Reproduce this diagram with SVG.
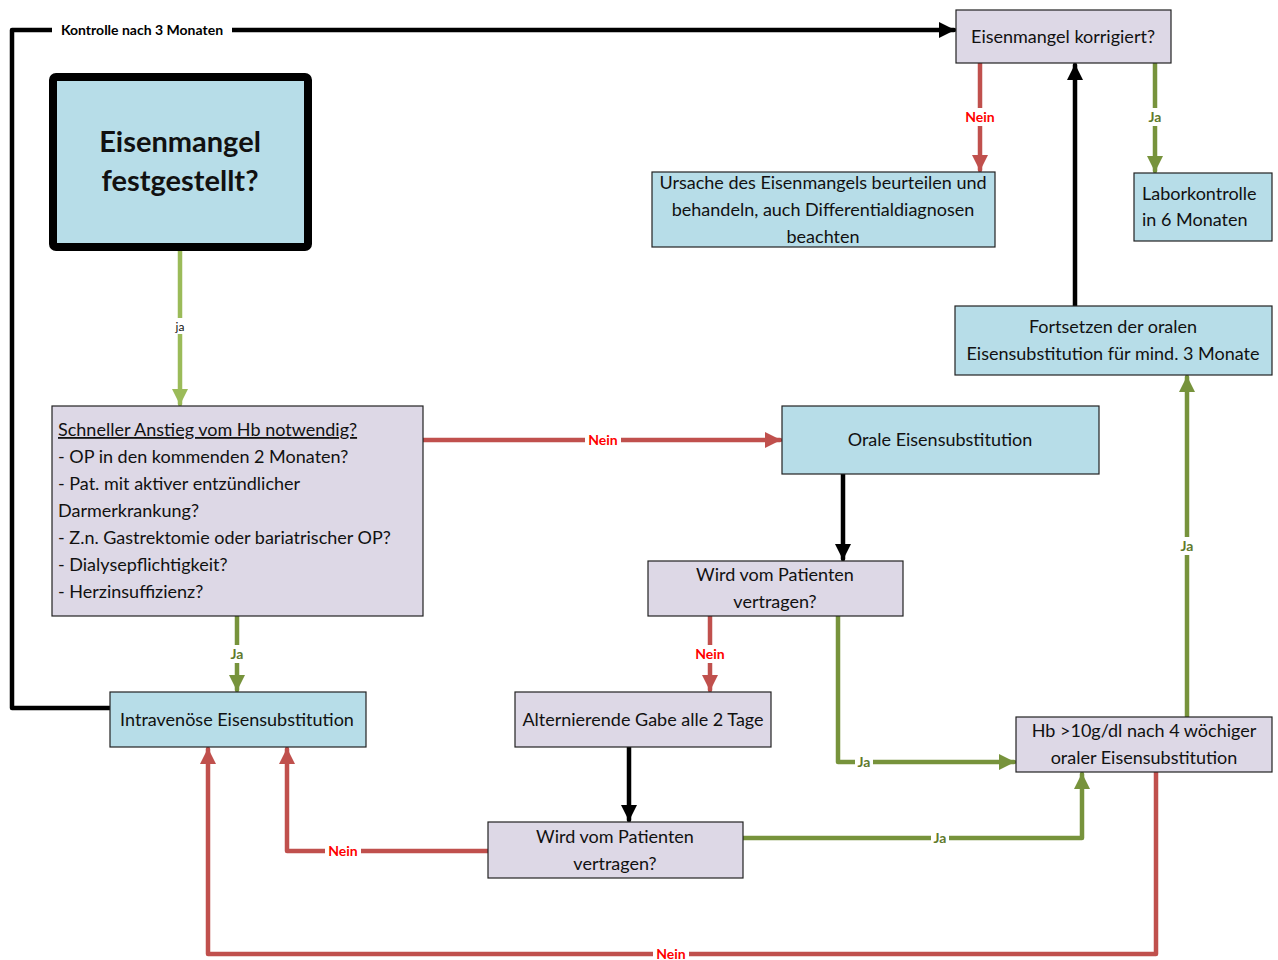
<svg xmlns="http://www.w3.org/2000/svg" width="1278" height="960" viewBox="0 0 1278 960">
<style>
  .t { font-family: Lato, "Open Sans", "Liberation Sans", sans-serif; font-size: 18px; fill: #111; }
  .c { text-anchor: middle; }
  .blue { fill: #B7DDE8; stroke: #222; stroke-width: 1.2; }
  .lav { fill: #DDD8E6; stroke: #222; stroke-width: 1.2; }
  .ln { fill: none; stroke-width: 4.5; stroke-linejoin: round; stroke-linecap: round; }
  .red { stroke: #C0504D; }
  .grn { stroke: #77933C; }
  .lgr { stroke: #9BBB59; }
  .blk { stroke: #000; }
  .lbl { font-family: Lato, "Open Sans", "Liberation Sans", sans-serif; font-size: 14px; font-weight: bold; text-anchor: middle; }
  .lr { fill: #FF0000; }
  .lg { fill: #5F7A2C; }
  .bg { fill: #fff; }
</style>
<defs>
  <marker id="aR" markerUnits="userSpaceOnUse" markerWidth="18" markerHeight="18" refX="15" refY="9" orient="auto"><path d="M0,1 L16,9 L0,17 z" fill="#C0504D"/></marker>
  <marker id="aG" markerUnits="userSpaceOnUse" markerWidth="18" markerHeight="18" refX="15" refY="9" orient="auto"><path d="M0,1 L16,9 L0,17 z" fill="#77933C"/></marker>
  <marker id="aL" markerUnits="userSpaceOnUse" markerWidth="18" markerHeight="18" refX="15" refY="9" orient="auto"><path d="M0,1 L16,9 L0,17 z" fill="#9BBB59"/></marker>
  <marker id="aB" markerUnits="userSpaceOnUse" markerWidth="18" markerHeight="18" refX="15" refY="9" orient="auto"><path d="M0,1 L16,9 L0,17 z" fill="#000"/></marker>
</defs>

<g id="connectors">
  <!-- Kontrolle nach 3 Monaten -->
  <path class="ln blk" d="M110,708 L12,708 L12,30 L954,30" marker-end="url(#aB)"/>
  <rect class="bg" x="52" y="21" width="180" height="18"/>
  <text class="lbl" x="142" y="35" fill="#000">Kontrolle nach 3 Monaten</text>

  <!-- ja -->
  <path class="ln lgr" d="M180,248 L180,404" marker-end="url(#aL)"/>
  <rect class="bg" x="172" y="318" width="16" height="16"/>
  <text x="180" y="331" style="font-family:Lato,'Liberation Sans',sans-serif;font-size:12px;text-anchor:middle" fill="#111">ja</text>

  <!-- Schneller -> Orale Nein -->
  <path class="ln red" d="M423,440 L780,440" marker-end="url(#aR)"/>
  <rect class="bg" x="585" y="431" width="36" height="18"/>
  <text class="lbl lr" x="603" y="445">Nein</text>

  <!-- Schneller -> Intravenoes Ja -->
  <path class="ln grn" d="M237,616 L237,690" marker-end="url(#aG)"/>
  <rect class="bg" x="226" y="645" width="22" height="18"/>
  <text class="lbl lg" x="237" y="659">Ja</text>

  <!-- Orale -> Wird1 -->
  <path class="ln blk" d="M843,474 L843,559" marker-end="url(#aB)"/>

  <!-- Wird1 -> Alternierende Nein -->
  <path class="ln red" d="M710,616 L710,690" marker-end="url(#aR)"/>
  <rect class="bg" x="691" y="645" width="38" height="18"/>
  <text class="lbl lr" x="710" y="659">Nein</text>

  <!-- Wird1 -> Hb Ja -->
  <path class="ln grn" d="M838,616 L838,762 L1014,762" marker-end="url(#aG)"/>
  <rect class="bg" x="855" y="753" width="18" height="18"/>
  <text class="lbl lg" x="864" y="767">Ja</text>

  <!-- Alternierende -> Wird2 -->
  <path class="ln blk" d="M629,747 L629,820" marker-end="url(#aB)"/>

  <!-- Wird2 -> Intravenoes Nein -->
  <path class="ln red" d="M488,851 L287,851 L287,749" marker-end="url(#aR)"/>
  <rect class="bg" x="325" y="842" width="36" height="18"/>
  <text class="lbl lr" x="343" y="856">Nein</text>

  <!-- Wird2 -> Hb Ja -->
  <path class="ln grn" d="M743,838 L1082,838 L1082,774" marker-end="url(#aG)"/>
  <rect class="bg" x="931" y="829" width="18" height="18"/>
  <text class="lbl lg" x="940" y="843">Ja</text>

  <!-- Hb -> Intravenoes Nein -->
  <path class="ln red" d="M1156,772 L1156,954 L208,954 L208,749" marker-end="url(#aR)"/>
  <rect class="bg" x="653" y="946" width="36" height="14"/>
  <text class="lbl lr" x="671" y="959">Nein</text>

  <!-- Hb -> Fortsetzen Ja -->
  <path class="ln grn" d="M1187,717 L1187,377" marker-end="url(#aG)"/>
  <rect class="bg" x="1177" y="537" width="20" height="18"/>
  <text class="lbl lg" x="1187" y="551">Ja</text>

  <!-- Fortsetzen -> korrigiert -->
  <path class="ln blk" d="M1075,306 L1075,65" marker-end="url(#aB)"/>

  <!-- korrigiert -> Ursache Nein -->
  <path class="ln red" d="M980,63 L980,170" marker-end="url(#aR)"/>
  <rect class="bg" x="961" y="108" width="38" height="18"/>
  <text class="lbl lr" x="980" y="122">Nein</text>

  <!-- korrigiert -> Labor Ja -->
  <path class="ln grn" d="M1155,63 L1155,171" marker-end="url(#aG)"/>
  <rect class="bg" x="1145" y="108" width="20" height="18"/>
  <text class="lbl lg" x="1155" y="122">Ja</text>
</g>

<g id="n-start">
  <rect x="53" y="77" width="255" height="170" rx="3" fill="#B7DDE8" stroke="#000" stroke-width="8"/>
  <text class="t c" x="180" y="152" style="font-size:29px;font-weight:bold">Eisenmangel</text>
  <text class="t c" x="180" y="191" style="font-size:29px;font-weight:bold">festgestellt?</text>
</g>

<g id="n-korrigiert">
  <rect class="lav" x="956" y="10" width="215" height="53"/>
  <text class="t c" x="1063" y="43">Eisenmangel korrigiert?</text>
</g>

<g id="n-ursache">
  <rect class="blue" x="652" y="172" width="343" height="75"/>
  <text class="t c" x="823" y="189">Ursache des Eisenmangels beurteilen und</text>
  <text class="t c" x="823" y="216">behandeln, auch Differentialdiagnosen</text>
  <text class="t c" x="823" y="243">beachten</text>
</g>

<g id="n-labor">
  <rect class="blue" x="1134" y="173" width="138" height="68"/>
  <text class="t" x="1142" y="200">Laborkontrolle</text>
  <text class="t" x="1142" y="226">in 6 Monaten</text>
</g>

<g id="n-fortsetzen">
  <rect class="blue" x="955" y="306" width="317" height="69"/>
  <text class="t c" x="1113" y="333">Fortsetzen der oralen</text>
  <text class="t c" x="1113" y="360">Eisensubstitution für mind. 3 Monate</text>
</g>

<g id="n-schneller">
  <rect class="lav" x="52" y="406" width="371" height="210"/>
  <text class="t" x="58" y="436" text-decoration="underline">Schneller Anstieg vom Hb notwendig?</text>
  <text class="t" x="58" y="463">- OP in den kommenden 2 Monaten?</text>
  <text class="t" x="58" y="490">- Pat. mit aktiver entzündlicher</text>
  <text class="t" x="58" y="517">Darmerkrankung?</text>
  <text class="t" x="58" y="544">- Z.n. Gastrektomie oder bariatrischer OP?</text>
  <text class="t" x="58" y="571">- Dialysepflichtigkeit?</text>
  <text class="t" x="58" y="598">- Herzinsuffizienz?</text>
</g>

<g id="n-orale">
  <rect class="blue" x="782" y="406" width="317" height="68"/>
  <text class="t c" x="940" y="446">Orale Eisensubstitution</text>
</g>

<g id="n-wird1">
  <rect class="lav" x="648" y="561" width="255" height="55"/>
  <text class="t c" x="775" y="581">Wird vom Patienten</text>
  <text class="t c" x="775" y="608">vertragen?</text>
</g>

<g id="n-intravenoes">
  <rect class="blue" x="110" y="692" width="256" height="55"/>
  <text class="t c" x="237" y="726">Intravenöse Eisensubstitution</text>
</g>

<g id="n-alternierend">
  <rect class="lav" x="515" y="692" width="256" height="55"/>
  <text class="t c" x="643" y="726">Alternierende Gabe alle 2 Tage</text>
</g>

<g id="n-wird2">
  <rect class="lav" x="488" y="822" width="255" height="56"/>
  <text class="t c" x="615" y="843">Wird vom Patienten</text>
  <text class="t c" x="615" y="870">vertragen?</text>
</g>

<g id="n-hb">
  <rect class="lav" x="1016" y="717" width="256" height="55"/>
  <text class="t c" x="1144" y="737">Hb &gt;10g/dl nach 4 wöchiger</text>
  <text class="t c" x="1144" y="764">oraler Eisensubstitution</text>
</g>
</svg>
